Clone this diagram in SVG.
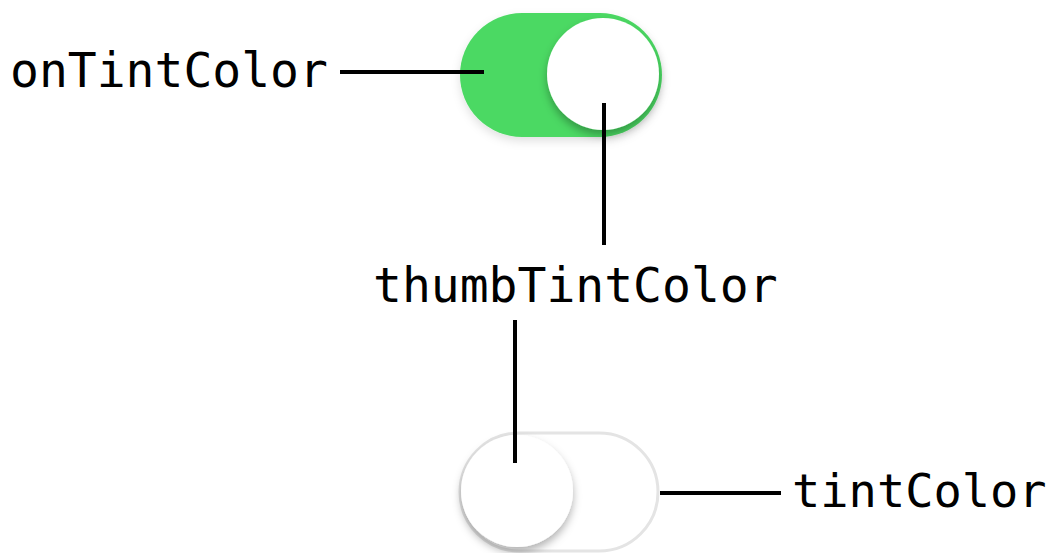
<svg xmlns="http://www.w3.org/2000/svg" width="1055" height="553" viewBox="0 0 1055 553">
<style>
.lbl{font-family:"DejaVu Sans Mono","Liberation Mono",monospace;font-size:48px;fill:#000}
.ln{stroke:#000;stroke-width:4;fill:none}
</style>
<defs>
<filter id="sh" x="-30%" y="-30%" width="160%" height="170%">
<feDropShadow dx="0" dy="5" stdDeviation="4" flood-color="#000" flood-opacity="0.3"/>
</filter>
<filter id="sh2" x="-20%" y="-20%" width="140%" height="150%">
<feDropShadow dx="0" dy="4" stdDeviation="5" flood-color="#000" flood-opacity="0.12"/>
</filter>
</defs>
<g id="switch-on">
<rect x="460" y="13" width="202" height="124" rx="62" fill="#4cd964" filter="url(#sh2)"/>
<circle cx="603" cy="74" r="56" fill="#fff" filter="url(#sh)"/>
</g>
<g id="switch-off">
<rect x="460" y="433" width="198" height="118" rx="59" fill="#fff" stroke="#e4e4e4" stroke-width="3"/>
<circle cx="517" cy="491" r="56" fill="#fff" filter="url(#sh)"/>
</g>
<g id="connectors">
<line class="ln" x1="340" y1="72" x2="484" y2="72"/>
<line class="ln" x1="604" y1="103" x2="604" y2="245"/>
<line class="ln" x1="515" y1="320" x2="515" y2="463"/>
<line class="ln" x1="660" y1="493" x2="781" y2="493"/>
</g>
<g id="label-onTintColor"><text class="lbl" x="10" y="87">onTintColor</text></g>
<g id="label-thumbTintColor"><text class="lbl" x="373" y="302">thumbTintColor</text></g>
<g id="label-tintColor"><text class="lbl" x="792" y="507" style="font-size:47px">tintColor</text></g>
</svg>
